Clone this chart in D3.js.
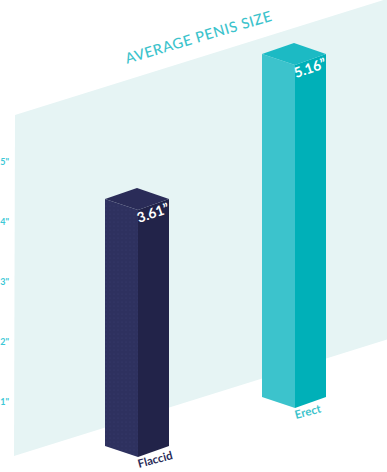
<!DOCTYPE html>
<html>
<head>
<meta charset="utf-8">
<script src="https://cdn.jsdelivr.net/npm/d3@7"></script>
<style>
  body { margin: 0; background: #fff; }
  svg { display: block; font-family: Lato, "Open Sans", sans-serif; }
</style>
</head>
<body>
<div id="chart"></div>
<script>
const categories = ['Flaccid', 'Erect']
const values = [3.61, 5.16]
const tickValues = [1, 2, 3, 4, 5]
const barColors = [
  { left: '#2e315f', right: '#222349', top: '#2a2c58', label: '#2a2c58' },
  { left: '#3cc3cc', right: '#00b0b8', top: '#1cbac4', label: '#3cc3cc' }
]

const width = 387, height = 472

let svg = d3.select('#chart')
  .append('svg')
  .attr('width', width)
  .attr('height', height)

// subtle dot texture on the dark bar
let defs = svg.append('defs')
defs.append('pattern')
    .attr('id', 'dots')
    .attr('width', 4)
    .attr('height', 4)
    .attr('patternUnits', 'userSpaceOnUse')
  .call(p => p.append('rect').attr('width', 4).attr('height', 4).attr('fill', '#2e315f'))
  .call(p => p.append('circle').attr('cx', 2).attr('cy', 2).attr('r', 0.5).attr('fill', '#3a3e72'))

// the tilted back plane
let slope = -0.312
svg.append('polygon')
  .attr('points', [[15, 115], [387, 115 + slope * 372], [387, 456 + slope * 373], [14, 456]].join(' '))
  .attr('fill', '#e6f4f4')

// title along the plane
svg.append('text')
  .attr('transform', 'translate(200,42) rotate(-16.5)')
  .attr('text-anchor', 'middle')
  .attr('font-size', 14.5)
  .attr('font-weight', 500)
  .attr('letter-spacing', 0.6)
  .attr('fill', '#3cc3cc')
  .text('AVERAGE PENIS SIZE')

// y axis (inches)
let y = d3.scaleLinear()
  .domain([0, 5])
  .range([461, 162])

svg.append('g')
  .attr('transform', 'translate(9,0)')
  .call(d3.axisLeft(y)
          .tickValues(tickValues)
          .tickSize(0)
          .tickPadding(0)
          .tickFormat(d => d + '"'))
  .call(g => g.select('.domain').remove())
  .call(g => g.selectAll('.tick text')
    .attr('font-family', 'Lato, sans-serif')
    .attr('font-size', 9)
    .attr('font-weight', 700)
    .attr('fill', '#3cc8d6'))

// bars
let x = d3.scalePoint()
  .domain(categories)
  .range([138, 295])

// bar height from value (front edge, px)
let h = d3.scaleLinear()
  .domain([0, 1])
  .range([23.5, 85.4])

let floor = px => 457 + slope * (px - 138)
let dl = 33, dr = 31, dd = 11, back = 22

let data = categories.map((c, i) => ({ name: c, value: values[i], color: barColors[i], i }))

let bars = svg.selectAll('.bar')
  .data(data)
  .enter().append('g')
  .attr('class', 'bar')

bars.each(function(d) {
  let g = d3.select(this)
  let fx = x(d.name)
  let bottom = floor(fx)
  let top = bottom - h(d.value)

  g.append('polygon')
    .attr('points', [[fx - dl, top - dd], [fx, top], [fx, bottom], [fx - dl, bottom - dd]].join(' '))
    .attr('fill', d.i === 0 ? 'url(#dots)' : d.color.left)
  g.append('polygon')
    .attr('points', [[fx, top], [fx + dr, top - dd], [fx + dr, bottom - dd], [fx, bottom]].join(' '))
    .attr('fill', d.color.right)
  g.append('polygon')
    .attr('points', [[fx, top], [fx - dl, top - dd], [fx - 1, top - back], [fx + dr, top - dd]].join(' '))
    .attr('fill', d.color.top)

  g.append('text')
    .attr('transform', `translate(${fx + 1},${top + 13}) rotate(-19)`)
    .attr('font-size', 14)
    .attr('font-weight', 700)
    .attr('fill', '#fff')
    .text(d3.format('.2f')(d.value) + '\u201D')

  g.append('text')
    .attr('transform', `translate(${fx + 1},${bottom + 11}) rotate(-15)`)
    .attr('font-size', 11.5)
    .attr('font-weight', 700)
    .attr('fill', d.color.label)
    .text(d.name)
})
</script>
</body>
</html>
